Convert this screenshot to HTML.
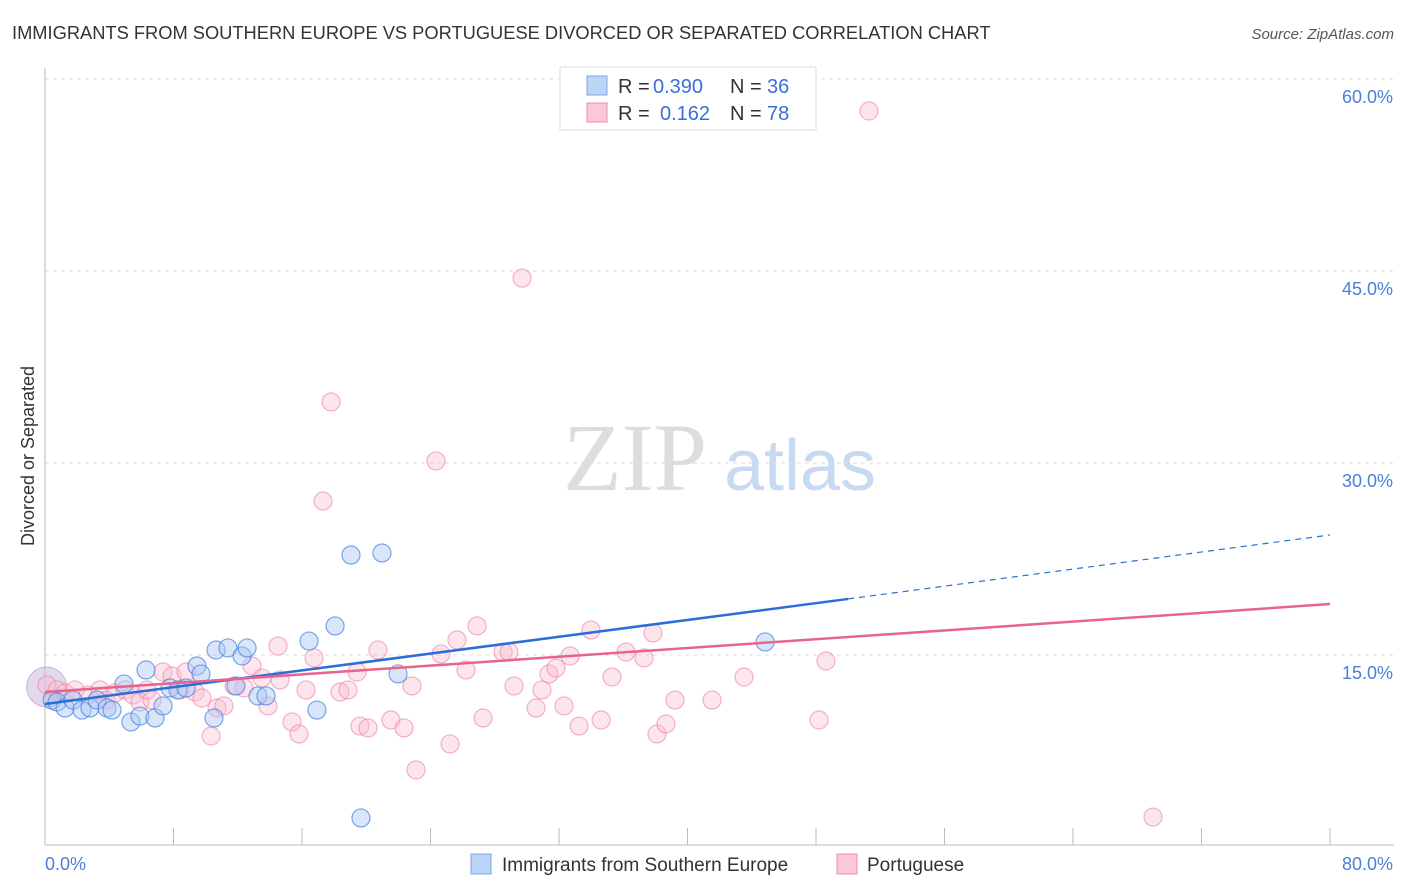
<!DOCTYPE html>
<html><head><meta charset="utf-8"><style>
body{margin:0;background:#fff;font-family:"Liberation Sans",sans-serif;}
svg{display:block}
</style></head><body>
<svg width="1406" height="892" xmlns="http://www.w3.org/2000/svg">
<text x="12" y="39" font-size="18.3" fill="#333">IMMIGRANTS FROM SOUTHERN EUROPE VS PORTUGUESE DIVORCED OR SEPARATED CORRELATION CHART</text>
<text x="1394" y="39" font-size="15" fill="#555" font-style="italic" text-anchor="end">Source: ZipAtlas.com</text>
<text x="34" y="456" font-size="18" fill="#333" text-anchor="middle" transform="rotate(-90 34 456)">Divorced or Separated</text>
<g><text x="635" y="490" font-size="96" font-family="Liberation Serif" fill="#ddd" text-anchor="middle">ZIP</text><text x="800" y="490" font-size="72" fill="#c8daf2" text-anchor="middle">atlas</text></g>
<g id="grid"></g><g id="axes"></g><g id="pts"></g><g id="trend"></g>
<g font-size="20">
<rect x="560" y="67" width="256" height="63" fill="#fff" stroke="#ddd"/>
<rect x="587" y="76" width="20" height="19" fill="#bcd4f5" stroke="#7aa6e6"/>
<rect x="587" y="103" width="20" height="19" fill="#fcc8d8" stroke="#f08cab"/>
<text x="618" y="93" fill="#333">R =</text><text x="653" y="93" fill="#3a6fd8">0.390</text><text x="730" y="93" fill="#333">N =</text><text x="767" y="93" fill="#3a6fd8">36</text>
<text x="618" y="120" fill="#333">R =</text><text x="660" y="120" fill="#3a6fd8">0.162</text><text x="730" y="120" fill="#333">N =</text><text x="767" y="120" fill="#3a6fd8">78</text>
</g>
<g>
<rect x="471" y="854" width="20" height="20" fill="#bcd4f5" stroke="#7aa6e6"/>
<text x="502" y="871" font-size="19" fill="#333">Immigrants from Southern Europe</text>
<rect x="837" y="854" width="20" height="20" fill="#fcc8d8" stroke="#f08cab"/>
<text x="867" y="871" font-size="19" fill="#333">Portuguese</text>
</g>
</svg>
<script>
const blueX=[0.44,0.75,1.25,1.74,2.30,2.80,3.24,3.86,4.17,4.92,5.35,5.91,6.29,6.85,7.35,7.78,8.28,8.78,9.46,9.71,10.52,10.65,11.39,12.27,12.58,11.89,13.26,13.76,16.44,16.93,18.06,19.05,20.98,21.98,19.67,44.83];
const blueY=[11.48,11.33,10.86,11.48,10.70,10.86,11.48,10.86,10.70,12.73,9.77,10.23,13.83,10.08,11.02,12.42,12.27,12.42,14.14,13.52,10.08,15.39,15.55,14.92,15.55,12.58,11.80,11.80,16.09,10.70,17.27,22.81,22.97,13.52,2.27,16.02];
const pinkX=[0.12,0.75,1.25,1.87,2.68,3.42,3.80,4.36,4.98,5.48,5.91,6.35,6.66,7.35,7.91,8.41,8.78,9.34,9.77,10.34,10.71,11.14,11.77,12.39,12.89,13.51,13.88,14.51,14.63,15.38,15.81,16.25,16.75,17.31,17.81,18.37,18.86,19.43,19.61,20.11,20.73,21.54,22.35,22.85,23.10,24.34,24.65,25.22,25.65,26.21,26.90,27.27,28.52,28.89,29.20,29.70,30.57,30.94,31.38,31.81,32.31,32.69,33.25,33.99,34.62,35.30,36.17,37.29,37.85,38.10,38.66,39.22,41.53,43.52,48.19,48.62,51.30,68.98];
const pinkY=[12.66,12.27,12.03,12.27,11.88,12.27,11.48,12.03,12.27,11.88,11.33,12.27,11.48,13.67,13.36,12.27,13.67,12.11,11.64,8.67,10.86,11.02,12.58,12.42,14.14,13.20,11.02,15.70,13.05,9.77,8.83,12.27,14.77,27.03,34.77,12.11,12.27,13.67,9.45,9.30,15.39,9.92,9.30,12.58,6.02,30.16,15.08,8.05,16.17,13.83,17.27,10.08,15.23,15.23,12.58,44.45,10.86,12.27,13.52,13.98,11.02,14.92,9.45,16.95,9.92,13.28,15.23,14.77,16.72,8.83,9.61,11.48,11.48,13.28,9.92,14.53,57.50,2.34];
const yTicks=[15,30,45,60];
const yTickLabels=["15.0%","30.0%","45.0%","60.0%"];
const xTicks=[0,8,16,24,32,40,48,56,64,72,80];
const blueTrend=[[0,11.17],[50,19.38],[80,24.38]];
const pinkTrend=[[0,12.11],[80,18.98]];
const NS="http://www.w3.org/2000/svg";
const sx=v=>45+v/80*1285, sy=v=>847-v/15*192;
function mk(t,a,p){const e=document.createElementNS(NS,t);for(const k in a)e.setAttribute(k,a[k]);p.appendChild(e);return e;}
const grid=document.getElementById('grid'),axes=document.getElementById('axes'),pts=document.getElementById('pts'),tr=document.getElementById('trend');
yTicks.forEach((v,i)=>{
 const l=mk('line',{x1:45,x2:1394,y1:sy(v),y2:sy(v),stroke:'#ddd','stroke-dasharray':'4,4'},grid);
 
 
 const t=mk('text',{x:1393,y:sy(v)+24,'font-size':18,fill:'#4a7fd6','text-anchor':'end'},axes);
 t.textContent=yTickLabels[i];
 
 
});
mk('line',{x1:45,x2:45,y1:68,y2:845,stroke:'#bbb'},axes);
mk('line',{x1:45,x2:1394,y1:845,y2:845,stroke:'#bbb'},axes);
xTicks.forEach(v=>{const l=mk('line',{x1:sx(v),x2:sx(v),y1:828,y2:845,stroke:'#bbb'},axes);
 
 });
let t0=mk('text',{x:45,y:870,'font-size':18,fill:'#4a7fd6'},axes);t0.textContent='0.0%';


let t1=mk('text',{x:1393,y:870,'font-size':18,fill:'#4a7fd6','text-anchor':'end'},axes);t1.textContent='80.0%';


mk('circle',{cx:sx(0.1),cy:sy(12.5),r:20,fill:'rgba(200,180,220,0.5)',stroke:'rgba(180,140,200,0.6)'},pts);
pinkX.forEach((x,i)=>{const c=mk('circle',{cx:sx(x),cy:sy(pinkY[i]),r:9,fill:'rgba(250,190,210,0.4)',stroke:'rgba(235,130,165,0.6)','stroke-width':1.2},pts);
 
 });
blueX.forEach((x,i)=>{const c=mk('circle',{cx:sx(x),cy:sy(blueY[i]),r:9,fill:'rgba(170,200,245,0.45)',stroke:'rgba(70,130,220,0.7)','stroke-width':1.2},pts);
 
 });
let b=mk('line',{x1:sx(blueTrend[0][0]),y1:sy(blueTrend[0][1]),x2:sx(blueTrend[1][0]),y2:sy(blueTrend[1][1]),stroke:'#2a6ed8','stroke-width':2.5},tr);


let bd=mk('line',{x1:sx(blueTrend[1][0]),y1:sy(blueTrend[1][1]),x2:sx(blueTrend[2][0]),y2:sy(blueTrend[2][1]),stroke:'#2a6ed8','stroke-width':1.2,'stroke-dasharray':'6,5'},tr);


let p=mk('line',{x1:sx(pinkTrend[0][0]),y1:sy(pinkTrend[0][1]),x2:sx(pinkTrend[1][0]),y2:sy(pinkTrend[1][1]),stroke:'#e8648e','stroke-width':2.5},tr);


</script>
</body></html>
